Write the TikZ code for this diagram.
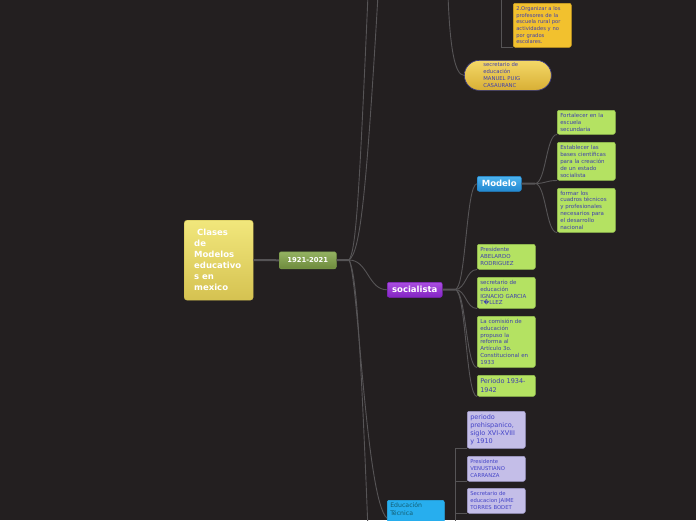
\documentclass[tikz,border=0pt]{standalone}
\usepackage{fontspec}
\newfontfamily\dv{DejaVu Sans}
\usetikzlibrary{calc}
\definecolor{bg}{HTML}{231F20}
\definecolor{ln}{HTML}{565456}
\definecolor{txtb}{HTML}{3F3FAE}
\definecolor{gleaf}{HTML}{B4E262}
\definecolor{gborder}{HTML}{98C452}
\definecolor{lav}{HTML}{C4BEE8}
\definecolor{lavborder}{HTML}{A39DCC}
\definecolor{lavtxt}{HTML}{4343C8}
\definecolor{orgfill}{HTML}{F2C12E}
\definecolor{orgborder}{HTML}{D2A322}
\definecolor{rootA}{HTML}{F1E77C}
\definecolor{rootB}{HTML}{D5C251}
\definecolor{rootD}{HTML}{C9B84E}
\definecolor{grA}{HTML}{94B262}
\definecolor{grB}{HTML}{6E8B3D}
\definecolor{grD}{HTML}{7A9A4A}
\definecolor{puA}{HTML}{AA4EE0}
\definecolor{puB}{HTML}{8424C4}
\definecolor{blA}{HTML}{4DB4F0}
\definecolor{blB}{HTML}{2288D0}
\definecolor{pillA}{HTML}{F4D868}
\definecolor{pillB}{HTML}{D8AF35}
\definecolor{pillD}{HTML}{3A3A80}
\definecolor{edufill}{HTML}{27AEEE}
\definecolor{edutxt}{HTML}{125E73}
\tikzset{
  conn/.style={draw=ln, line width=0.9pt},
  stub/.style={draw=ln, line width=2pt},
  curve/.style={to path={let \p1=(\tikztostart), \p2=(\tikztotarget) in
     .. controls ({0.5*\x1+0.5*\x2},\y1) and ({0.5*\x1+0.5*\x2},\y2) .. (\tikztotarget)}},
  box/.style={anchor=north west, rounded corners=2pt, inner ysep=0pt,
     inner xsep=3pt, text width=52pt, align=left, line width=0.5pt},
  leaf/.style={box, draw=gborder, fill=gleaf, text=txtb,
     font=\dv\fontsize{5.5}{6.9}\selectfont},
  lavbox/.style={box, draw=lavborder, fill=lav, text=lavtxt,
     font=\dv\fontsize{5.3}{7}\selectfont},
  catbox/.style={anchor=north west, rounded corners=2pt, inner sep=0pt,
     align=center, text=white, line width=0.5pt},
}
\begin{document}
\begin{tikzpicture}[x=1pt,y=-1pt]
\useasboundingbox (0,0) rectangle (696,520);
\fill[bg] (0,0) rectangle (696,520);
\clip (0,0) rectangle (696,520);

% ---------- nodes ----------
\node[anchor=north west, rounded corners=3pt, draw=rootD, top color=rootA,
  bottom color=rootB, minimum width=69pt, minimum height=80pt, inner xsep=10pt,
  inner ysep=0pt, text width=49pt, align=left, text=white,
  font=\dv\bfseries\fontsize{8.5}{11}\selectfont] (root) at (184,220)
  {\hspace{3pt}Clases\\de\\Modelos\\educativo\\s en\\mexico};

\node[catbox, draw=grD, top color=grA, bottom color=grB, minimum width=57pt,
  minimum height=17pt, font=\dv\bfseries\fontsize{6.8}{8}\selectfont]
  (y21) at (279,251.5) {1921-2021};

\node[catbox, draw=puB, top color=puA, bottom color=puB, minimum width=55pt,
  minimum height=15pt, font=\dv\bfseries\fontsize{8.5}{10}\selectfont]
  (soc) at (387,282) {socialista};

\node[catbox, draw=blB, top color=blA, bottom color=blB, minimum width=44pt,
  minimum height=15pt, font=\dv\bfseries\fontsize{8.5}{10}\selectfont]
  (modelo) at (477,176) {Modelo};

\node[leaf, minimum height=25pt] (pres1) at (477,244)
  {Presidente\\ABELARDO\\RODRIGUEZ};
\node[leaf, minimum height=31pt] (sec1) at (477,277)
  {secretario de\\educación\\IGNACIO GARCIA\\T�LLEZ};
\node[leaf, minimum height=51pt] (com) at (477,316)
  {La comisión de\\educación\\propuso la\\reforma al\\Artículo 3o.\\Constitucional en\\1933};
\node[leaf, minimum height=21pt, font=\dv\fontsize{6.5}{8.5}\selectfont] (per) at (477,375)
  {Periodo 1934-\\1942};

\node[leaf, minimum height=24pt] (fort) at (557,110)
  {Fortalecer en la\\escuela\\secundaria};
\node[leaf, minimum height=38pt] (est) at (557,142)
  {Establecer las\\bases científicas\\para la creación\\de un estado\\socialista};
\node[leaf, minimum height=44pt] (form) at (557,188)
  {formar los\\cuadros técnicos\\y profesionales\\necesarios para\\el desarrollo\\nacional};

\node[box, draw=orgborder, fill=orgfill, text=txtb, minimum height=44pt,
  font=\dv\fontsize{5.2}{6.6}\selectfont] (org) at (513,3)
  {2.Organizar a los\\profesores de la\\escuela rural por\\actividades y no\\por grados\\escolares.};

\node[anchor=north west, rounded corners=15pt, draw=pillD, line width=0.7pt,
  top color=pillA, bottom color=pillB, minimum width=87pt, minimum height=30pt,
  inner xsep=19pt, inner ysep=0pt, text width=49pt, align=left, text=txtb,
  font=\dv\fontsize{5.3}{7}\selectfont] (pill) at (464,60)
  {secretario de\\educación\\MANUEL PUIG\\CASAURANC};

\node[box, draw=edufill, fill=edufill, text=edutxt, inner ysep=2.5pt,
  text width=51pt, font=\dv\fontsize{6.2}{8}\selectfont] (edu) at (387,500)
  {Educación\\Técnica\rule[-10pt]{0pt}{10pt}};

\node[lavbox, minimum height=37pt, font=\dv\fontsize{6.5}{8}\selectfont] (lav1) at (467,411)
  {periodo\\prehispanico,\\siglo XVI-XVIII\\y 1910};
\node[lavbox, minimum height=25pt] (lav2) at (467,456)
  {Presidente\\VENUSTIANO\\CARRANZA};
\node[lavbox, minimum height=25pt] (lav3) at (467,488)
  {Secretario de\\educacion JAIME\\TORRES BODET};

% ---------- branch points and free ends ----------
\coordinate (B0) at (349,260);
\coordinate (B1) at (455,289.5);
\coordinate (B2) at (535,183.5);
\coordinate (topA) at (368,-5);
\coordinate (topB) at (378,-5);
\coordinate (topC) at (448,-5);
\coordinate (topD) at (501,-5);
\coordinate (botA) at (368,530);
\coordinate (botB) at (455,530);

% ---------- connectors ----------
\draw[stub] (root.east) -- (y21.west);
\draw[stub] (y21.east) -- (B0);
\draw[conn] (B0) .. controls (356,250) and (359,200) .. (topA);
\draw[conn] (B0) .. controls (360,252) and (366,200) .. (topB);
\draw[conn] (B0) .. controls (356,272) and (360,330) .. (botA);
\draw[conn] (B0) .. controls (358,275) and (366,500) .. ([yshift=-4pt]edu.west);
\draw[conn] (B0) to[curve] (soc.west);

\draw[stub] (soc.east) -- (B1);
\draw[conn] (B1) to[curve] (modelo.west);
\draw[conn] (B1) to[curve] (pres1.south west);
\draw[conn] (B1) to[curve] (sec1.south west);
\draw[conn] (B1) to[curve] (com.south west);
\draw[conn] (B1) to[curve] (per.south west);

\draw[stub] (modelo.east) -- (B2);
\draw[conn] (B2) to[curve] (fort.south west);
\draw[conn] (B2) to[curve] (est.south west);
\draw[conn] (B2) to[curve] (form.south west);

\draw[conn] (topC) .. controls (450,50) and (455,75) .. (pill.west);
\draw[conn] (topD) |- (org.south west);

\draw[conn] (botB) |- (lav1.south west);
\draw[conn] (botB) |- (lav2.south west);
\draw[conn] (botB) |- (lav3.south west);
\end{tikzpicture}
\end{document}
